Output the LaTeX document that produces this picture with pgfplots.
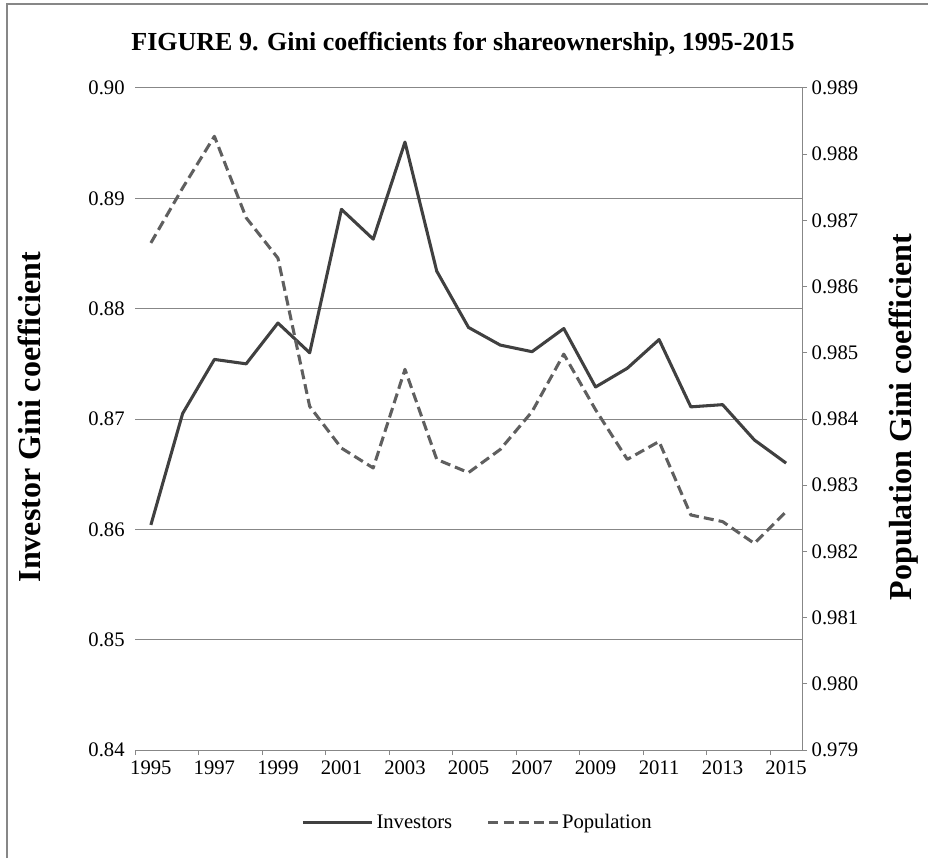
\documentclass[border=0pt]{standalone}
\usepackage{fontspec}
\setmainfont{Liberation Serif}
\usepackage{pgfplots}
\pgfplotsset{compat=1.18}

\definecolor{gridgray}{HTML}{878787}
\definecolor{invcol}{HTML}{404040}
\definecolor{popcol}{HTML}{5F5F5F}

\pgfplotsset{
  giniaxis/.style={
    scale only axis, width=500.25pt, height=496.5pt,
    at={(101.25pt,81pt)}, anchor=south west,
    xmin=1994.5, xmax=2015.5,
    tick label style={font=\fontsize{15.5}{18}\selectfont},
    /pgf/number format/assume math mode=true,
  },
}

\begin{document}
\begin{tikzpicture}[x=0.75pt,y=0.75pt]
\useasboundingbox (0,0) rectangle (928,858);
\draw[gridgray, line width=1.1pt] (7,0) -- (7,854) -- (928,854);
\node[font=\fontsize{19.5}{22}\selectfont\bfseries] at (463,814)
  {FIGURE 9. Gini coefficients for shareownership, 1995-2015};

% left axis: investors
\begin{axis}[giniaxis,
  axis x line*=bottom, axis y line*=left,
  ymin=0.84, ymax=0.90,
  ytick={0.84,0.85,0.86,0.87,0.88,0.89,0.90},
  yticklabel style={/pgf/number format/.cd, fixed, fixed zerofill, precision=2},
  ymajorgrids, grid style={gridgray, line width=0.75pt},
  y axis line style={draw=none},
  ytick style={draw=none},
  x axis line style={gridgray, line width=0.75pt},
  xtick={1995,1997,...,2015},
  xticklabel style={/pgf/number format/1000 sep={}},
  major x tick style={draw=none},
  minor xtick={1994.5,1996.5,...,2014.5},
  minor x tick style={gridgray, line width=0.75pt},
  tick align=outside, minor tick length=3.75pt,
]
\addplot[invcol, line width=2.3pt, line join=round, mark=none] coordinates {
(1995,0.8604) (1996,0.8705) (1997,0.8754) (1998,0.8750) (1999,0.8787)
(2000,0.8760) (2001,0.8890) (2002,0.8863) (2003,0.8951) (2004,0.8834)
(2005,0.8783) (2006,0.8767) (2007,0.8761) (2008,0.8782) (2009,0.8729)
(2010,0.8746) (2011,0.8772) (2012,0.8711) (2013,0.8713) (2014,0.8681)
(2015,0.8660)};
\end{axis}

% right axis: population
\begin{axis}[giniaxis,
  axis x line=none, axis y line*=right,
  ymin=0.979, ymax=0.989,
  ytick={0.979,0.980,0.981,0.982,0.983,0.984,0.985,0.986,0.987,0.988,0.989},
  yticklabel style={/pgf/number format/.cd, fixed, fixed zerofill, precision=3},
  y axis line style={gridgray, line width=0.75pt},
  ytick style={gridgray, line width=0.75pt},
  tick align=outside, major tick length=3.75pt,
  legend columns=2,
  legend style={draw=none, fill=none, at={(0.514,-0.110)}, anchor=center,
    font=\fontsize{15.5}{18}\selectfont,
    /tikz/every even column/.append style={column sep=24pt}},
  legend image code/.code={\draw[#1] (0pt,0pt) -- (52pt,0pt);},
]
\addlegendimage{invcol, line width=2.3pt}
\addlegendentry{Investors}
\addplot[popcol, line width=2.3pt, line join=round, dash pattern=on 7.5pt off 3.8pt, mark=none] coordinates {
(1995,0.98666) (1996,0.98749) (1997,0.98827) (1998,0.98704) (1999,0.98643)
(2000,0.98419) (2001,0.98356) (2002,0.98326) (2003,0.98475) (2004,0.98339)
(2005,0.98319) (2006,0.98354) (2007,0.98411) (2008,0.98498) (2009,0.98414)
(2010,0.98339) (2011,0.98366) (2012,0.98255) (2013,0.98245) (2014,0.98212)
(2015,0.98260)};
\addlegendentry{Population}
\end{axis}

\node[rotate=90, font=\fontsize{24}{28}\selectfont\bfseries] at (29,441)
  {Investor Gini coefficient};
\node[rotate=90, font=\fontsize{24}{28}\selectfont\bfseries] at (904,441)
  {Population Gini coefficient};
\end{tikzpicture}
\end{document}
